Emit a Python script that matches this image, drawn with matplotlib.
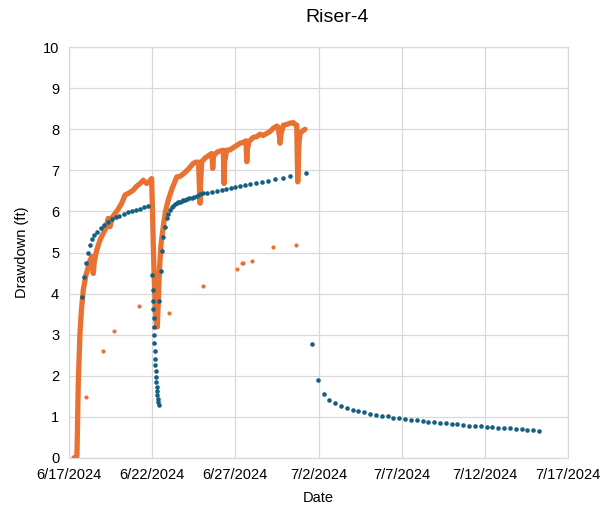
import numpy as np
import pandas as pd
import matplotlib
matplotlib.use("Agg")
import matplotlib.pyplot as plt
import matplotlib.dates as mdates
from matplotlib.ticker import FuncFormatter, MultipleLocator

plt.rcParams["font.family"] = ["Liberation Sans", "DejaVu Sans"]

start = pd.Timestamp("2024-06-17")

# measured drawdown (continuous logger), days since 6/17/2024
logger_days = [0.30, 0.48, 0.56, 0.66, 0.75, 0.86, 1.02, 1.16, 1.26, 1.37, 1.41, 1.46, 1.53, 1.67,
               1.86, 2.06, 2.22, 2.36, 2.42, 2.47, 2.59, 2.77, 2.95, 3.17, 3.37, 3.61, 3.87, 4.03,
               4.27, 4.47, 4.57, 4.67, 4.81, 4.97, 5.02, 5.08, 5.14, 5.20, 5.27, 5.31, 5.37, 5.44,
               5.53, 5.67, 5.80, 5.97, 6.19, 6.48, 6.67, 6.98, 7.22, 7.47, 7.64, 7.79, 7.84, 7.88,
               7.92, 7.98, 8.18, 8.36, 8.58, 8.62, 8.64, 8.69, 8.92, 9.08, 9.28, 9.30, 9.32, 9.35,
               9.48, 9.68, 9.98, 10.28, 10.46, 10.64, 10.67, 10.69, 10.72, 10.82, 11.06, 11.29,
               11.48, 11.67, 11.89, 12.09, 12.27, 12.49, 12.57, 12.66, 12.69, 12.75, 12.89, 13.11,
               13.29, 13.49, 13.59, 13.69, 13.72, 13.75, 13.79, 13.83, 13.89, 14.01, 14.19]
logger_ft = [0.00, 0.05, 1.82, 3.03, 3.60, 4.09, 4.45, 4.65, 4.80, 4.90, 4.70, 4.49, 4.80, 5.06,
             5.30, 5.47, 5.60, 5.83, 5.70, 5.63, 5.85, 5.95, 6.05, 6.20, 6.40, 6.45, 6.52, 6.60,
             6.68, 6.76, 6.72, 6.68, 6.72, 6.80, 6.00, 5.00, 4.20, 3.60, 3.19, 3.19, 3.80, 4.60,
             5.20, 5.63, 6.00, 6.28, 6.55, 6.84, 6.85, 6.95, 7.05, 7.17, 7.20, 7.20, 6.60, 6.20,
             6.80, 7.21, 7.30, 7.35, 7.41, 7.20, 7.05, 7.35, 7.45, 7.47, 7.49, 7.00, 6.68, 7.20,
             7.49, 7.50, 7.58, 7.66, 7.68, 7.72, 7.40, 7.21, 7.50, 7.70, 7.80, 7.82,
             7.88, 7.85, 7.90, 7.95, 8.02, 8.08, 8.05, 7.80, 7.66, 7.90, 8.10, 8.12,
             8.15, 8.16, 8.12, 8.10, 7.40, 6.72, 7.20, 7.70, 7.90, 7.95, 8.00]

# manual measurements
manual_days = [1.02, 2.06, 2.72, 4.21, 6.01, 8.04, 10.08, 10.38, 10.48, 10.99, 12.25, 13.63]
manual_ft = [1.48, 2.61, 3.10, 3.71, 3.54, 4.18, 4.61, 4.74, 4.75, 4.79, 5.13, 5.18]

# modelled drawdown
model_days = [0.80, 0.92, 1.04, 1.16, 1.28, 1.40, 1.52, 1.70, 1.91, 2.10, 2.33, 2.57, 2.81, 3.02,
              3.29, 3.53, 3.77, 4.01, 4.27, 4.51, 4.77,
              4.99, 5.03, 5.07, 5.08, 5.09, 5.11, 5.12, 5.14, 5.15, 5.17, 5.19, 5.21, 5.23, 5.25,
              5.27, 5.29, 5.31, 5.33, 5.35, 5.39,
              5.44, 5.56, 5.62, 5.68, 5.77, 5.87, 5.97, 6.07, 6.18, 6.27, 6.37, 6.48, 6.57, 6.67,
              6.78, 6.87, 6.98, 7.08, 7.23, 7.38, 7.52, 7.68, 7.88, 8.08, 8.32, 8.58, 8.88, 9.18,
              9.44, 9.72, 10.00, 10.28, 10.58, 10.88, 11.23, 11.59, 11.98, 12.39, 12.85, 13.29, 14.25,
              14.61, 14.95, 15.30, 15.65, 16.00, 16.35, 16.70, 17.05, 17.40, 17.75, 18.10, 18.45,
              18.80, 19.15, 19.50, 19.85, 20.20, 20.55, 20.90, 21.25, 21.60, 21.95, 22.30, 22.65,
              23.00, 23.35, 23.70, 24.05, 24.40, 24.75, 25.10, 25.45, 25.80, 26.15, 26.50, 26.85,
              27.20, 27.55, 27.90, 28.25]
model_ft = [3.92, 4.40, 4.74, 5.00, 5.18, 5.32, 5.43, 5.51, 5.59, 5.67, 5.75, 5.81, 5.86, 5.90,
            5.94, 5.98, 6.01, 6.03, 6.07, 6.10, 6.13,
            4.45, 4.10, 3.83, 3.62, 3.41, 3.19, 2.99, 2.79, 2.60, 2.42, 2.26, 2.12, 1.98, 1.85,
            1.73, 1.63, 1.53, 1.44, 1.36, 1.28,
            3.83, 4.55, 5.03, 5.39, 5.63, 5.83, 5.95, 6.03, 6.10, 6.14, 6.17, 6.20, 6.22, 6.24,
            6.25, 6.27, 6.29, 6.30, 6.32, 6.33, 6.35, 6.37, 6.42, 6.44, 6.46, 6.48, 6.50, 6.52,
            6.54, 6.57, 6.59, 6.62, 6.64, 6.67, 6.69, 6.72, 6.75, 6.78, 6.82, 6.86, 6.93,
            2.77, 1.90, 1.56, 1.41, 1.33, 1.27, 1.22, 1.18, 1.14, 1.11, 1.08, 1.05,
            1.03, 1.01, 0.98, 0.97, 0.95, 0.93, 0.92, 0.90, 0.88, 0.87, 0.85, 0.84,
            0.83, 0.82, 0.80, 0.79, 0.78, 0.77, 0.76, 0.75, 0.74, 0.73, 0.72, 0.71,
            0.70, 0.69, 0.68, 0.66]

to_dt = lambda d: start + pd.to_timedelta(d, unit="D")

fig = plt.figure(figsize=(6.05, 5.12), dpi=100)
ax = fig.add_axes([0.114, 0.1055, 0.825, 0.8025])

blue = "#156082"
orange = "#E97132"

ax.plot(to_dt(logger_days), logger_ft, color=orange, lw=3.8, solid_capstyle="round",
        solid_joinstyle="round", zorder=3)
ax.plot(to_dt(model_days), model_ft, "o", color=blue, ms=3.3, mec="none", zorder=4)
ax.plot(to_dt(manual_days), manual_ft, "o", color=orange, ms=3.0, mec="none", zorder=4)

ax.set_xlim(start, start + pd.Timedelta(days=30))
ax.set_ylim(0, 10)
ax.xaxis.set_major_locator(mdates.DayLocator(bymonthday=[2, 7, 12, 17, 22, 27]))
ax.xaxis.set_major_formatter(FuncFormatter(
    lambda v, p: (lambda d: f"{d.month}/{d.day}/{d.year}")(mdates.num2date(v))))
ax.yaxis.set_major_locator(MultipleLocator(1))

ax.grid(True, color="#d9d9d9", lw=0.9)
ax.set_axisbelow(True)
for s in ax.spines.values():
    s.set_color("#d9d9d9")
    s.set_linewidth(0.9)
ax.tick_params(length=0, labelsize=10.5, colors="black", pad=7)

ax.set_xlabel("Date", fontsize=10.5, labelpad=7)
ax.set_ylabel("Drawdown (ft)", fontsize=10.5, labelpad=10)
fig.text(0.557, 0.965, "Riser-4", fontsize=14, ha="center", va="center")

fig.savefig("out.png", dpi=100)
